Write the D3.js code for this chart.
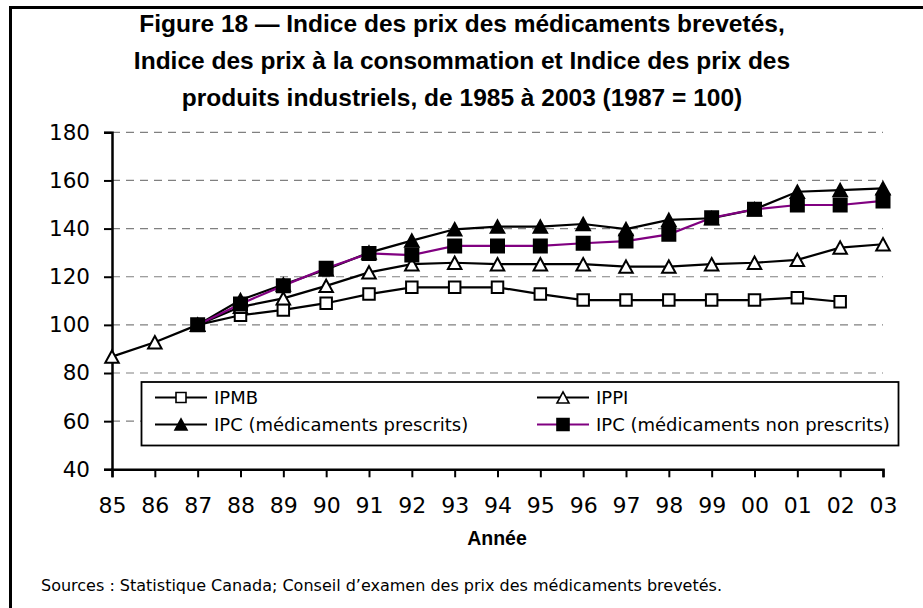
<!DOCTYPE html>
<html>
<head>
<meta charset="utf-8">
<script src="https://cdn.jsdelivr.net/npm/d3@7"></script>
<style>
  html, body { margin: 0; padding: 0; background: #fff; }
  svg { display: block; }
</style>
</head>
<body>
<svg id="chart" width="923" height="608"></svg>
<script>
// ---- data ----
const years = [1985,1986,1987,1988,1989,1990,1991,1992,1993,1994,1995,1996,1997,1998,1999,2000,2001,2002,2003];
const yearLabels = ["85","86","87","88","89","90","91","92","93","94","95","96","97","98","99","00","01","02","03"];
const ipmb   = [null,null,100,104,106.2,109,112.8,115.6,115.6,115.6,112.8,110.3,110.3,110.3,110.3,110.3,111.3,109.6,null];
const ippi   = [86.8,92.8,100,107.5,111,116.2,121.8,125.2,125.8,125.2,125.2,125.2,124.2,124.2,125.2,125.8,127,132.1,133.5];
const ipcPresc    = [null,null,100,110.3,116.8,123,130,135,139.7,140.8,140.8,141.9,139.8,143.6,144.3,148,155.3,156,156.7];
const ipcNonPresc = [null,null,100,108.7,116.3,123.5,129.7,129,132.8,132.8,132.8,133.9,134.8,137.6,144.5,148,149.8,149.8,151.5];
const yTicks = [40,60,80,100,120,140,160,180];
const titleLines = [
  "Figure 18 — Indice des prix des médicaments brevetés,",
  "Indice des prix à la consommation et Indice des prix des",
  "produits industriels, de 1985 à 2003 (1987 = 100)"
];
const seriesNames = ["IPMB","IPPI","IPC (médicaments prescrits)","IPC (médicaments non prescrits)"];
const xTitle = "Année";
const sourceText = "Sources : Statistique Canada; Conseil d’examen des prix des médicaments brevetés.";

// ---- layout ----
const svg = d3.select("#chart");
const x = d3.scalePoint().domain(years).range([112, 883]);
const y = d3.scaleLinear().domain([40, 180]).range([469.3, 132.3]);

// frame (left + top)
svg.append("path").attr("d", "M10.5,608 L10.5,7.5 L923,7.5")
  .attr("fill","none").attr("stroke","#000").attr("stroke-width",3);

// title
svg.append("g").selectAll("text").data(titleLines).join("text")
  .attr("x", 462).attr("y", (d,i) => 32 + i*37)
  .attr("text-anchor","middle")
  .attr("font-family","'Liberation Sans', Arial, sans-serif")
  .attr("font-weight","bold").attr("font-size",24.5)
  .attr("fill","#000")
  .text(d => d);

// gridlines
svg.append("g").selectAll("line").data(yTicks.filter(v => v > 40)).join("line")
  .attr("x1", 112).attr("x2", 883)
  .attr("y1", d => y(d)).attr("y2", d => y(d))
  .attr("stroke","#808080").attr("stroke-width",1.2)
  .attr("stroke-dasharray","8,6");

// y axis
const yAxis = svg.append("g").attr("transform","translate(112,0)")
  .call(d3.axisLeft(y).tickValues(yTicks).tickSize(8).tickPadding(14).tickFormat(d3.format("d")));
yAxis.select(".domain").attr("stroke","#000").attr("stroke-width",2.5);
yAxis.selectAll(".tick line").attr("stroke","#000").attr("stroke-width",2);
yAxis.selectAll(".tick text")
  .attr("font-family","'DejaVu Sans', Verdana, sans-serif").attr("font-size",21.5).attr("fill","#000");

// x axis
const xAxis = svg.append("g").attr("transform","translate(0,469.3)")
  .call(d3.axisBottom(x).tickSize(8).tickPadding(20).tickFormat((d,i) => yearLabels[i]));
xAxis.select(".domain").attr("stroke","#000").attr("stroke-width",2.5);
xAxis.selectAll(".tick line").attr("stroke","#000").attr("stroke-width",2);
xAxis.selectAll(".tick text")
  .attr("font-family","'DejaVu Sans', Verdana, sans-serif").attr("font-size",22).attr("fill","#000");

// axis title
svg.append("text").attr("x", 497).attr("y", 545)
  .attr("text-anchor","middle")
  .attr("font-family","'Liberation Sans', Arial, sans-serif")
  .attr("font-weight","bold").attr("font-size",19.5).text(xTitle);

// source
svg.append("text").attr("x", 41).attr("y", 591)
  .attr("font-family","'DejaVu Sans', Verdana, sans-serif")
  .attr("font-size",16).text(sourceText);

// markers
function triPath(s) { const h = s*0.92; return `M0,${-h/2} L${s/2},${h/2} L${-s/2},${h/2} Z`; }
function sqPath(s) { return `M${-s/2},${-s/2} h${s} v${s} h${-s} Z`; }

const series = [
  { name: seriesNames[0], vals: ipmb, color: "#000", shape: sqPath(11.5), fill: "#fff" },
  { name: seriesNames[1], vals: ippi, color: "#000", shape: triPath(13.5), fill: "#fff" },
  { name: seriesNames[2], vals: ipcPresc, color: "#000", shape: triPath(13.5), fill: "#000" },
  { name: seriesNames[3], vals: ipcNonPresc, color: "#800080", shape: sqPath(13), fill: "#000" }
];

const line = d3.line().defined(d => d.v != null).x(d => x(d.yr)).y(d => y(d.v));

series.forEach(s => {
  const pts = years.map((yr,i) => ({yr, v: s.vals[i]}));
  const g = svg.append("g");
  g.append("path").datum(pts).attr("d", line)
    .attr("fill","none").attr("stroke", s.color).attr("stroke-width",2.2);
  g.selectAll("path.m").data(pts.filter(d => d.v != null)).join("path")
    .attr("class","m")
    .attr("transform", d => `translate(${x(d.yr)},${y(d.v)})`)
    .attr("d", s.shape)
    .attr("fill", s.fill).attr("stroke","#000").attr("stroke-width",2);
});

// legend
const lg = svg.append("g");
lg.append("rect").attr("x",141.5).attr("y",382).attr("width",757).attr("height",63.5)
  .attr("fill","#fff").attr("stroke","#000").attr("stroke-width",1.8);
const legPos = [[155,397.5],[537,397.5],[155,424.5],[537,424.5]];
series.forEach((s,i) => {
  const [lx,ly] = legPos[i];
  lg.append("line").attr("x1",lx).attr("x2",lx+52).attr("y1",ly).attr("y2",ly)
    .attr("stroke", s.color).attr("stroke-width",2);
  lg.append("path").attr("transform",`translate(${lx+26},${ly})`)
    .attr("d", i===0 ? sqPath(10) : (i===3 ? sqPath(12) : triPath(12)))
    .attr("fill", s.fill).attr("stroke","#000").attr("stroke-width",1.6);
  lg.append("text").attr("x", lx+59).attr("y", ly+6.5)
    .attr("font-family","'DejaVu Sans', Verdana, sans-serif")
    .attr("font-size",18).text(s.name);
});
</script>
</body>
</html>
